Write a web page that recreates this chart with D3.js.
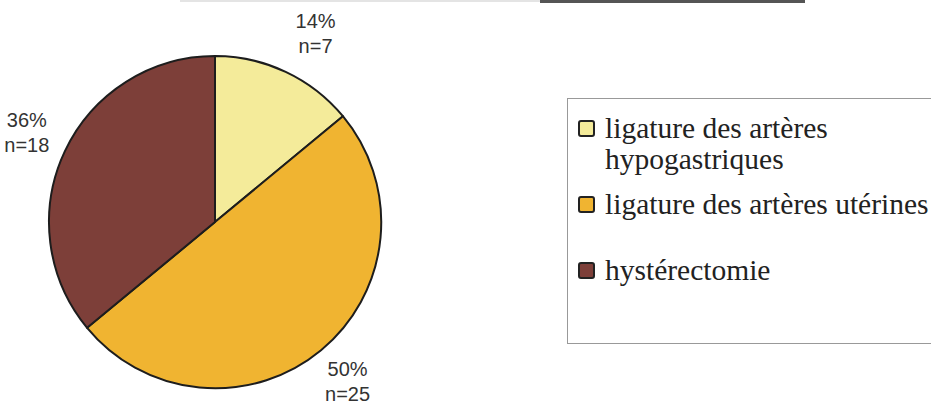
<!DOCTYPE html>
<html>
<head>
<meta charset="UTF-8">
<title>pie</title>
<script src="https://d3js.org/d3.v7.min.js"></script>
<style>
  body { margin: 0; background: #fff; }
</style>
</head>
<body>
<script>
  // data
  var categories = ["ligature des artères hypogastriques", "ligature des artères utérines", "hystérectomie"];
  var counts = [7, 25, 18];
  var percents = ["14%", "50%", "36%"];
  var legendLines = [["ligature des artères", "hypogastriques"], ["ligature des artères utérines"], ["hystérectomie"]];
  var colors = ["#f4eb9a", "#f0b431", "#7d3f39"];

  var width = 931, height = 406;
  var cx = 215, cy = 222, radius = 166;

  var svg = d3.select("body").append("svg")
      .attr("width", width)
      .attr("height", height);

  // cut-off rule at the very top of the scan
  svg.append("rect").attr("x", 180).attr("y", 0).attr("width", 360).attr("height", 2).attr("fill", "#e4e4e4");
  svg.append("rect").attr("x", 540).attr("y", 0).attr("width", 265).attr("height", 3).attr("fill", "#555");

  var pie = d3.pie().sort(null).value(function(d) { return d; });
  var arcs = pie(counts);

  var arc = d3.arc().innerRadius(0).outerRadius(radius);
  var labelArc = d3.arc().innerRadius(208).outerRadius(208);

  var g = svg.append("g")
      .attr("transform", "translate(" + cx + "," + cy + ")");

  g.selectAll("path")
    .data(arcs)
    .enter().append("path")
      .attr("d", arc)
      .attr("fill", function(d, i) { return colors[i]; })
      .attr("stroke", "#1d1d1d")
      .attr("stroke-width", 2)
      .attr("stroke-linejoin", "round");

  var labels = g.selectAll("text.lbl")
    .data(arcs)
    .enter().append("text")
      .attr("class", "lbl")
      .attr("transform", function(d) {
        var c = labelArc.centroid(d);
        // small slices get pushed a bit further along x, like the original layout
        if (d.endAngle - d.startAngle < 1) c[0] += 12;
        return "translate(" + c + ")";
      })
      .attr("text-anchor", "middle")
      .style("font-family", "'Liberation Sans', Arial, sans-serif")
      .style("font-size", "20px")
      .attr("fill", "#333");
  labels.append("tspan").attr("x", 0).attr("y", -6).text(function(d, i) { return percents[i]; });
  labels.append("tspan").attr("x", 0).attr("y", 19).text(function(d, i) { return "n=" + counts[i]; });

  // legend
  var legend = svg.append("g");
  legend.append("rect")
      .attr("x", 567.5).attr("y", 98.5)
      .attr("width", 400).attr("height", 245)
      .attr("fill", "none")
      .attr("stroke", "#999")
      .attr("stroke-width", 1);

  var rowY = [138, 214, 280];
  var items = legend.selectAll("g.item")
    .data(categories)
    .enter().append("g")
      .attr("class", "item")
      .attr("transform", function(d, i) { return "translate(578," + rowY[i] + ")"; });

  items.append("rect")
      .attr("x", 1).attr("y", -17)
      .attr("width", 15).attr("height", 15)
      .attr("rx", 2)
      .attr("fill", function(d, i) { return colors[i]; })
      .attr("stroke", "#222")
      .attr("stroke-width", 2);

  items.append("text")
      .style("font-family", "'Liberation Serif', 'Times New Roman', serif")
      .style("font-size", "29.5px")
      .attr("fill", "#222")
      .each(function(d, i) {
        var t = d3.select(this);
        legendLines[i].forEach(function(line, j) {
          t.append("tspan").attr("x", 27).attr("y", j * 31).text(line);
        });
      });
</script>
</body>
</html>
